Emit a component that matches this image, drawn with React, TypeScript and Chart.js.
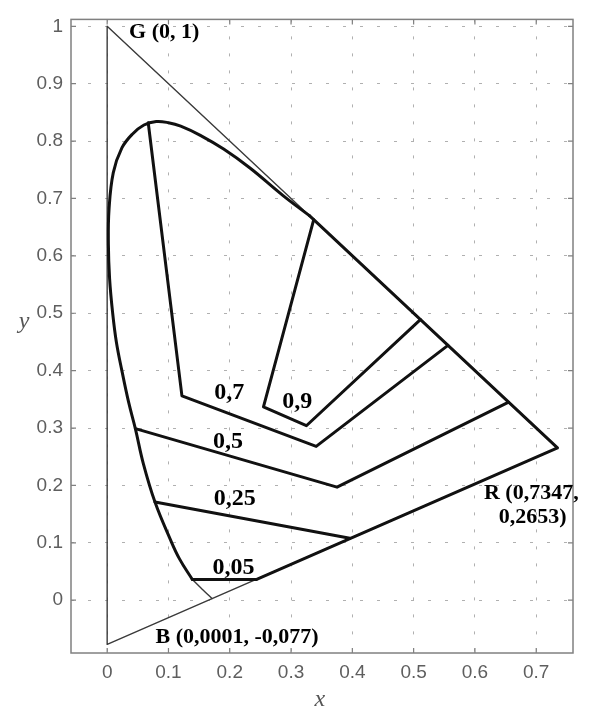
import React, { useEffect, useRef } from "react";
import { Chart, registerables } from "chart.js";

Chart.register(...registerables);

// ---- tick values / labels ----
const xTickValues = [0, 0.1, 0.2, 0.3, 0.4, 0.5, 0.6, 0.7];
const xTickLabels = ["0", "0.1", "0.2", "0.3", "0.4", "0.5", "0.6", "0.7"];
const yTickValues = [0, 0.1, 0.2, 0.3, 0.4, 0.5, 0.6, 0.7, 0.8, 0.9, 1];
const yTickLabels = ["0", "0.1", "0.2", "0.3", "0.4", "0.5", "0.6", "0.7", "0.8", "0.9", "1"];

// ---- primaries triangle (thin) ----
const triangleX = [0.0001, 0, 0.7347, 0.0001];
const triangleY = [-0.077, 1, 0.2653, -0.077];

// ---- spectral locus, curved part (thick) ----
const locusX = [0.139, 0.118, 0.103, 0.078, 0.059, 0.046, 0.035, 0.024, 0.015, 0.009, 0.004, 0.002, 0.003, 0.010, 0.024, 0.041, 0.060, 0.080, 0.100, 0.120, 0.152, 0.190, 0.233, 0.287, 0.330];
const locusY = [0.036, 0.072, 0.106, 0.171, 0.238, 0.299, 0.345, 0.400, 0.450, 0.500, 0.560, 0.620, 0.680, 0.745, 0.788, 0.812, 0.828, 0.834, 0.832, 0.826, 0.810, 0.786, 0.753, 0.705, 0.670];

// ---- spectral locus, lower tail (thin) ----
const tailX = [0.139, 0.155, 0.171];
const tailY = [0.036, 0.019, 0.003];

// ---- locus straight edges to R and purple line (thick) ----
const edgeX = [0.330, 0.7347, 0.243];
const edgeY = [0.670, 0.2653, 0.036];

// ---- contour lines (thick) ----
const c005X = [0.139, 0.243];
const c005Y = [0.036, 0.036];
const c025X = [0.078, 0.396];
const c025Y = [0.171, 0.108];
const c05X = [0.046, 0.375, 0.655];
const c05Y = [0.299, 0.197, 0.345];
const c07X = [0.067, 0.122, 0.341, 0.556];
const c07Y = [0.832, 0.356, 0.268, 0.444];
const c09X = [0.337, 0.255, 0.325, 0.511];
const c09Y = [0.663, 0.337, 0.304, 0.489];

// ---- annotation texts ----
const labelTexts = ["G (0, 1)", "0,7", "0,9", "0,5", "0,25", "0,05", "B (0,0001, -0,077)", "R (0,7347,", "0,2653)"];
const labelAtX = [0.093, 0.199, 0.310, 0.197, 0.208, 0.206, 0.212, 0.692, 0.694];
const labelAtY = [0.979, 0.350, 0.335, 0.265, 0.166, 0.046, -0.075, 0.176, 0.135];
const labelSizes = [22, 24, 24, 24, 24, 24, 22, 22, 22];

const pts = (xs: number[], ys: number[]) => xs.map((x, i) => ({ x, y: ys[i] }));

const THICK = "#111111";
const THIN = "#3a3a3a";

export default function App() {
  const ref = useRef<HTMLCanvasElement | null>(null);

  useEffect(() => {
    if (!ref.current) return;

    const framePlugin = {
      id: "frame",
      afterDatasetsDraw(chart: any) {
        const { ctx, chartArea: a, scales } = chart;
        ctx.save();
        ctx.strokeStyle = "#808080";
        ctx.lineWidth = 1.5;
        ctx.strokeRect(a.left, a.top, a.right - a.left, a.bottom - a.top);
        ctx.lineWidth = 1.2;
        ctx.beginPath();
        xTickValues.forEach((v) => {
          const px = scales.x.getPixelForValue(v);
          ctx.moveTo(px, a.bottom);
          ctx.lineTo(px, a.bottom - 5);
          ctx.moveTo(px, a.top);
          ctx.lineTo(px, a.top + 5);
        });
        yTickValues.forEach((v) => {
          const py = scales.y.getPixelForValue(v);
          ctx.moveTo(a.left, py);
          ctx.lineTo(a.left + 5, py);
          ctx.moveTo(a.right, py);
          ctx.lineTo(a.right - 5, py);
        });
        ctx.stroke();
        ctx.restore();
      },
      afterDraw(chart: any) {
        const { ctx, scales, chartArea: a } = chart;
        ctx.save();
        ctx.fillStyle = "#000";
        ctx.textAlign = "center";
        ctx.textBaseline = "alphabetic";
        labelTexts.forEach((t, i) => {
          ctx.font = `bold ${labelSizes[i]}px "Liberation Serif", "Times New Roman", serif`;
          ctx.fillText(t, scales.x.getPixelForValue(labelAtX[i]), scales.y.getPixelForValue(labelAtY[i]));
        });
        // axis titles
        ctx.fillStyle = "#555";
        ctx.font = `italic 24px "Liberation Serif", "Times New Roman", serif`;
        ctx.fillText("y", a.left - 47, scales.y.getPixelForValue(0.475));
        ctx.fillText("x", scales.x.getPixelForValue(0.347), 706);
        ctx.restore();
      },
    };

    const mk = (xs: number[], ys: number[], color: string, width: number, tension = 0, order = 0) => ({
      data: pts(xs, ys),
      showLine: true,
      borderColor: color,
      borderWidth: width,
      pointRadius: 0,
      pointHoverRadius: 0,
      fill: false,
      tension,
      order,
      borderCapStyle: "round",
      borderJoinStyle: "round",
    });

    const chart = new Chart(ref.current, {
      type: "scatter",
      data: {
        datasets: [
          mk(locusX, locusY, THICK, 3, 0.4, 0),
          mk(edgeX, edgeY, THICK, 3, 0, 0),
          mk(c005X, c005Y, THICK, 3, 0, 0),
          mk(c025X, c025Y, THICK, 3, 0, 0),
          mk(c05X, c05Y, THICK, 3, 0, 0),
          mk(c07X, c07Y, THICK, 3, 0, 0),
          mk(c09X, c09Y, THICK, 3, 0, 0),
          mk(tailX, tailY, THIN, 1.4, 0.3, 1),
          mk(triangleX, triangleY, THIN, 1.4, 0, 1),
        ] as any,
      },
      plugins: [framePlugin],
      options: {
        animation: false,
        responsive: false,
        maintainAspectRatio: false,
        events: [],
        layout: { padding: { top: 7, right: 16, left: 0, bottom: 0 } },
        plugins: {
          legend: { display: false },
          tooltip: { enabled: false },
          title: { display: false },
        },
        scales: {
          x: {
            type: "linear",
            min: -0.059,
            max: 0.76,
            afterFit: (s: any) => {
              s.height = 60;
            },
            afterBuildTicks: (s: any) => {
              s.ticks = xTickValues.map((v) => ({ value: v }));
            },
            border: { display: false, dash: [3, 14] },
            grid: {
              color: "#b0b0b0",
              lineWidth: 1,
              drawTicks: false,
            },
            ticks: {
              padding: 8,
              color: "#5e5e5e",
              font: { family: '"Liberation Sans", Arial, sans-serif', size: 19 },
              callback: (v: any) => {
                const i = xTickValues.findIndex((t) => Math.abs(t - v) < 1e-9);
                return i >= 0 ? xTickLabels[i] : "";
              },
            },
          },
          y: {
            type: "linear",
            min: -0.092,
            max: 1.012,
            afterFit: (s: any) => {
              s.width = 71;
            },
            afterBuildTicks: (s: any) => {
              s.ticks = yTickValues.map((v) => ({ value: v }));
            },
            border: { display: false, dash: [3, 14] },
            grid: {
              color: "#b0b0b0",
              lineWidth: 1,
              drawTicks: false,
            },
            ticks: {
              padding: 8,
              color: "#5e5e5e",
              font: { family: '"Liberation Sans", Arial, sans-serif', size: 19 },
              callback: (v: any) => {
                const i = yTickValues.findIndex((t) => Math.abs(t - v) < 1e-9);
                return i >= 0 ? yTickLabels[i] : "";
              },
            },
          },
        },
      } as any,
    });

    return () => chart.destroy();
  }, []);

  return (
    <div style={{ position: "absolute", left: 0, top: 0, width: 589, height: 713, background: "#fff" }}>
      <canvas ref={ref} width={589} height={713} style={{ width: 589, height: 713 }} />
    </div>
  );
}
